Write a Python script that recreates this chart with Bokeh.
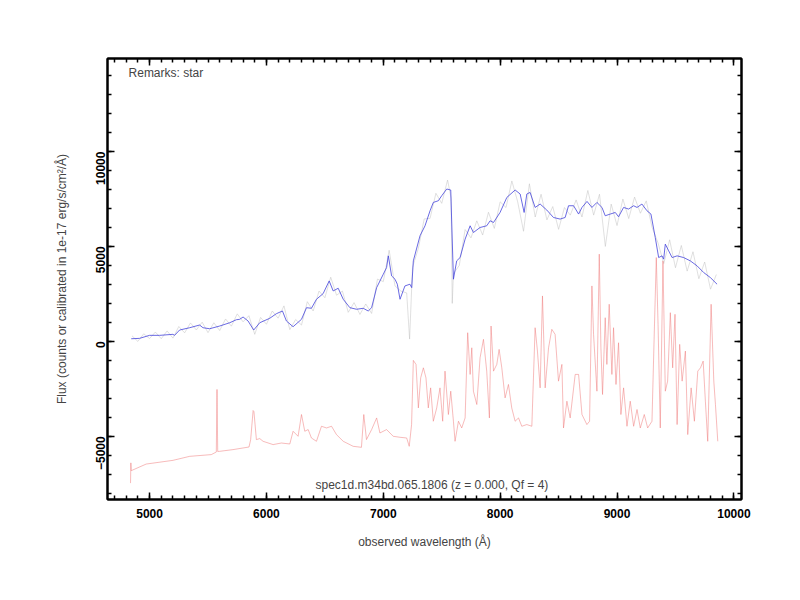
from bokeh.plotting import figure
from bokeh.models import LinearAxis, SingleIntervalTicker, Range1d, Label, CustomLabelingPolicy
from bokeh.embed import file_html
from bokeh.resources import INLINE

# ---- data ----
blue_wave = [4843, 4914, 5000, 5086, 5200, 5214, 5257, 5343, 5428, 5457, 5514, 5600, 5686, 5743,
             5771, 5800, 5843, 5891, 5943, 6028, 6085, 6137, 6171, 6228, 6300, 6343, 6385, 6428,
             6485, 6537, 6571, 6614, 6657, 6714, 6771, 6828, 6871, 6900, 6943, 7000, 7028, 7043,
             7071, 7100, 7120, 7143, 7185, 7228, 7243, 7257, 7314, 7357, 7400, 7428, 7471, 7500,
             7543, 7577, 7600, 7628, 7657, 7700, 7743, 7771, 7828, 7885, 7914, 7943, 7999, 8057,
             8128, 8171, 8205, 8228, 8256, 8299, 8342, 8399, 8456, 8513, 8556, 8585, 8628, 8671,
             8700, 8743, 8785, 8828, 8871, 8899, 8942, 8985, 9013, 9056, 9099, 9142, 9171, 9213,
             9256, 9290, 9327, 9356, 9385, 9399, 9413, 9442, 9471, 9514, 9570, 9627, 9685, 9742,
             9799, 9856]
blue_flux = [137, 158, 317, 317, 370, 317, 597, 718, 860, 718, 665, 808, 982, 1140,
             1162, 1283, 1072, 597, 982, 1214, 1457, 1600, 1072, 771, 1162, 1774, 1742, 2218,
             2513, 3184, 2656, 2798, 2218, 1774, 1690, 1742, 1600, 1774, 2830, 3538, 3886, 4504,
             3448, 3274, 3010, 2218, 2920, 3010, 2830, 4240, 5560, 6088, 6880, 7318, 7408, 7672,
             8025, 7972, 3274, 4240, 4415, 5386, 6088, 5734, 5998, 6088, 6352, 6262, 6790, 7582,
             7972, 7762, 6790, 7762, 7846, 7054, 7234, 6917, 6526, 6442, 6526, 7144, 7144, 6706,
             7054, 7371, 7054, 7318, 7054, 6616, 6706, 6790, 6563, 7054, 6970, 7144, 7054, 7234,
             6880, 6706, 5470, 4415, 4504, 4330, 5122, 4768, 4415, 4504, 4415, 4240, 3976, 3622,
             3358, 3010]

grey_wave = [4850, 4900, 4950, 5000, 5050, 5100, 5150, 5200, 5250, 5300, 5350, 5400, 5450, 5500,
             5550, 5600, 5650, 5700, 5750, 5800, 5850, 5900, 5950, 6000, 6050, 6100, 6150, 6200,
             6250, 6300, 6350, 6400, 6450, 6500, 6550, 6600, 6650, 6700, 6750, 6800, 6850, 6900,
             6950, 7000, 7050, 7100, 7150, 7200, 7225, 7250, 7300, 7350, 7400, 7450, 7500, 7550,
             7580, 7590, 7600, 7650, 7700, 7750, 7800, 7850, 7900, 7950, 8000, 8050, 8100, 8150,
             8200, 8250, 8300, 8350, 8400, 8450, 8500, 8550, 8600, 8650, 8700, 8750, 8800, 8850,
             8900, 8950, 9000, 9050, 9100, 9150, 9200, 9250, 9300, 9350, 9400, 9450, 9500, 9550,
             9600, 9650, 9700, 9750, 9800, 9850]
grey_flux = [290, 0, 400, 150, 490, 140, 550, 170, 780, 450, 970, 600, 1010, 460,
             980, 570, 1180, 800, 1450, 1030, 1350, 370, 1260, 900, 1600, 1220, 1870, 620,
             1150, 860, 2090, 1600, 2650, 2300, 3380, 2430, 2650, 1530, 2040, 1420, 1970, 1470,
             3280, 3150, 4800, 2920, 2650, 2550, 120, 3900, 4900, 6450, 6480, 7800, 7270, 8500,
             7550, 2000, 3570, 4000, 5890, 5450, 6350, 5600, 6800, 5950, 7350, 7050, 8450, 7350,
             5800, 8300, 6550, 7750, 6400, 7100, 5900, 7050, 6650, 7450, 6550, 7950, 6650, 7750,
             5000, 7230, 6100, 7500, 6470, 7600, 6750, 7400, 6000, 5200, 4100, 5350, 3880, 5050,
             3700, 4720, 3300, 4180, 2750, 3520]

red_wave = [4837, 4840, 4843, 4971, 5200, 5343, 5528, 5571, 5577, 5583, 5600, 5714, 5851, 5865,
            5886, 5893, 5914, 5943, 5971, 6057, 6128, 6200, 6228, 6271, 6300, 6328, 6357, 6385,
            6428, 6471, 6514, 6557, 6599, 6657, 6742, 6813, 6833, 6856, 6900, 6943, 6971, 7028,
            7085, 7143, 7200, 7222, 7242, 7257, 7280, 7300, 7320, 7343, 7365, 7385, 7405, 7428,
            7457, 7485, 7508, 7528, 7557, 7577, 7600, 7614, 7643, 7671, 7700, 7722, 7743, 7757,
            7771, 7800, 7828, 7857, 7885, 7908, 7922, 7943, 7971, 7991, 8014, 8042, 8071, 8099,
            8128, 8157, 8185, 8228, 8271, 8299, 8319, 8342, 8362, 8385, 8414, 8442, 8470, 8499,
            8528, 8542, 8571, 8599, 8642, 8671, 8700, 8742, 8765, 8785, 8799, 8828, 8848, 8862,
            8876, 8899, 8913, 8933, 8956, 8970, 8991, 9013, 9033, 9056, 9085, 9113, 9142, 9171,
            9199, 9233, 9262, 9299, 9319, 9336, 9351, 9370, 9393, 9413, 9433, 9456, 9476, 9496,
            9514, 9536, 9557, 9585, 9605, 9634, 9662, 9691, 9714, 9737, 9756, 9776, 9805, 9828,
            9842, 9862]
red_flux = [-7466, -6400, -6811, -6463, -6268, -6056, -5966, -5829, -2534, -5800, -5792, -5702, -5565, -5174,
            -3643, -3700, -5174, -5122, -5264, -5438, -5354, -5406, -4736, -5000, -3854, -4736, -4646, -5090,
            -5264, -4472, -4562, -4472, -4910, -5264, -5528, -5581, -3854, -5174, -4646, -4034, -4826, -4646,
            -5000, -5053, -5090, -5528, -4382, -1003, -1214, -3506, -1922, -1394, -1922, -3506, -2450, -4208,
            -3506, -2450, -4208, -1568, -3854, -2624, -4208, -5264, -4208, -4562, -4034, 454, -1742, -338,
            -2624, -3326, -866, 106, -1568, -4034, 808, -1568, -1214, -422, -1394, -2978, -2270, -3506,
            -4208, -4034, -4472, -4382, -4472, 718, -512, -2450, 2392, -2450, -338, 634, 370, -2096,
            -1214, -4562, -3152, -4034, -1742, -1742, -3854, -4382, -4208, 2920, 370, -2624, 4594, -338,
            -2798, 1246, -1214, 1954, -1742, 718, -2270, -74, -3854, -2450, -4472, -3152, -4472, -3590,
            -4562, -3854, -4562, -4208, 544, 4415, 898, -4562, 4240, -2624, -2096, 1510, -1394, 1426,
            -4382, -158, -2096, -512, -4910, -2450, -4208, -1568, -1394, -1040, -3152, -5264, 1954, -2096,
            -3326, -5264]

x_range = (4640, 10065)
y_range = (-8330, 14900)

FONT = "Liberation Sans"

p = figure(width=784, height=584, output_backend="svg", toolbar_location=None,
           x_range=Range1d(*x_range), y_range=Range1d(*y_range),
           x_axis_location=None, y_axis_location=None,
           min_border_left=107, min_border_right=43, min_border_top=58, min_border_bottom=85)
p.xgrid.visible = False
p.ygrid.visible = False
p.outline_line_color = "black"
p.outline_line_width = 2
p.background_fill_color = "white"
p.border_fill_color = "white"

p.line(grey_wave, grey_flux, line_color="#bdbdbd", line_width=0.6, line_alpha=0.8)
p.line(blue_wave, blue_flux, line_color="#4646dc", line_width=0.9, line_alpha=0.9)
p.line(red_wave, red_flux, line_color="#f07878", line_width=0.6, line_alpha=0.85)

hide_all = CustomLabelingPolicy(code="for (const i of indices) { indices.unset(i) } return indices")


def make_axis(show_labels, interval, minor):
    ax = LinearAxis(ticker=SingleIntervalTicker(interval=interval, num_minor_ticks=minor))
    ax.axis_line_width = 2
    ax.major_tick_in = 7
    ax.major_tick_out = 0
    ax.minor_tick_in = 4
    ax.minor_tick_out = 0
    ax.major_tick_line_width = 1.5
    ax.minor_tick_line_width = 1.5
    ax.major_label_text_font = FONT
    ax.major_label_text_font_style = "bold"
    ax.major_label_text_font_size = "12px"
    ax.major_label_text_color = "black"
    ax.axis_label_text_font = FONT
    ax.axis_label_text_font_style = "normal"
    ax.axis_label_text_font_size = "12px"
    if not show_labels:
        ax.major_label_policy = hide_all
        ax.major_label_standoff = 0
    return ax


bottom = make_axis(True, 1000, 10)
bottom.axis_label = "observed wavelength (Å)"
bottom.major_label_standoff = 9
bottom.axis_label_standoff = 14
p.add_layout(bottom, "below")

left = make_axis(True, 5000, 5)
left.axis_label = "Flux (counts or calibrated in 1e-17 erg/s/cm²/Å)"
left.major_label_orientation = 3.14159265 / 2
left.major_label_standoff = 7
left.axis_label_standoff = 20
p.add_layout(left, "left")

top = make_axis(False, 1000, 10)
p.add_layout(top, "above")
right = make_axis(False, 5000, 5)
p.add_layout(right, "right")

p.add_layout(Label(x=4820, y=14110, text="Remarks: star", text_font=FONT,
                   text_font_size="12px", text_baseline="middle", text_align="left"))
p.add_layout(Label(x=7416, y=-7590, text="spec1d.m34bd.065.1806 (z = 0.000, Qf = 4)",
                   text_font=FONT, text_font_size="12px", text_baseline="middle",
                   text_align="center"))

open("out.html", "w").write(file_html(p, INLINE))
